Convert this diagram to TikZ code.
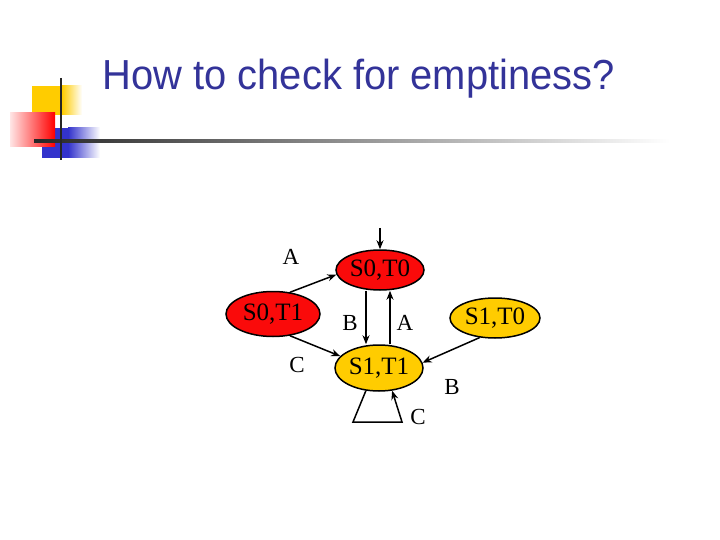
\documentclass[tikz,border=0pt]{standalone}
\usepackage{fontspec}
\setmainfont{Liberation Serif}
\newfontfamily\titlefont[FakeStretch=0.95]{Liberation Sans}
\usetikzlibrary{shapes.geometric,arrows.meta,positioning}
\definecolor{myred}{RGB}{250,10,10}
\definecolor{myyellow}{RGB}{255,204,0}
\definecolor{myblue}{RGB}{51,51,204}
\definecolor{mytitle}{RGB}{51,51,153}

\begin{document}
\begin{tikzpicture}[x=1pt,y=-1pt,font=\fontsize{25}{29}\selectfont,
  state/.style={ellipse,draw=black,line width=1.5pt,minimum width=88pt,
                minimum height=40pt,inner sep=0pt},
  edge/.style={-{Stealth[length=9pt,width=7pt]},line width=1.5pt}]
  \useasboundingbox (0,0) rectangle (720,540);

  % corner decoration and rule
  \fill[myyellow] (32,86) rectangle (62,115);
  \shade[left color=myyellow,right color=white] (62,86) rectangle (82,115);
  \fill[myblue] (42,128) rectangle (68,158);
  \shade[left color=myblue,right color=white] (68,128) rectangle (100,158);
  \shade[left color=red!10,right color=red] (10,113) rectangle (55,147);
  \shade[left color=black!85,right color=white] (34,139.5) rectangle (670,142.5);
  \draw[line width=2.5pt,black!85] (61,78) -- (61,160);

  \node[anchor=base west,text=mytitle,font=\titlefont\fontsize{42}{46}\selectfont]
    (title) at (99,90) {How to check for emptiness?};

  % states
  \node[state,fill=myred] (s0t0) at (380,270) {S0,T0};
  \node[state,fill=myred,minimum width=94pt,minimum height=45pt] (s0t1) at (273,314) {S0,T1};
  \node[state,fill=myyellow,minimum width=90pt] (s1t0) at (495,318) {S1,T0};
  \node[state,fill=myyellow,minimum height=46pt] (s1t1) at (379,368) {S1,T1};

  % transitions
  \coordinate (init) at (380,228);
  \coordinate (loopl) at (353,422);
  \coordinate (loopr) at (402,422);
  \draw[edge] (init) -- (s0t0);
  \draw[edge] (s0t1.52) -- (s0t0.186);
  \draw[edge] ([xshift=-14pt]s0t0.south) -- ([xshift=-13pt]s1t1.north);
  \draw[edge] ([xshift=11pt]s1t1.north) -- ([xshift=10pt]s0t0.south);
  \draw[edge] (s0t1.-52) -- (s1t1.163);
  \draw[edge] (s1t0.-128) -- (s1t1.7);
  \draw[edge] (s1t1.240) -- (loopl) -- (loopr) -- (s1t1.300);

  \foreach \t/\x/\y/\n in {A/291/257/la1,B/350/323/lb1,A/405/323/la2,
                           C/297/365/lc1,B/452/387/lb2,C/418/417/lc2}{
    \node[font=\fontsize{23}{26}\selectfont] (\n) at (\x,\y) {\t};
  }
\end{tikzpicture}
\end{document}
